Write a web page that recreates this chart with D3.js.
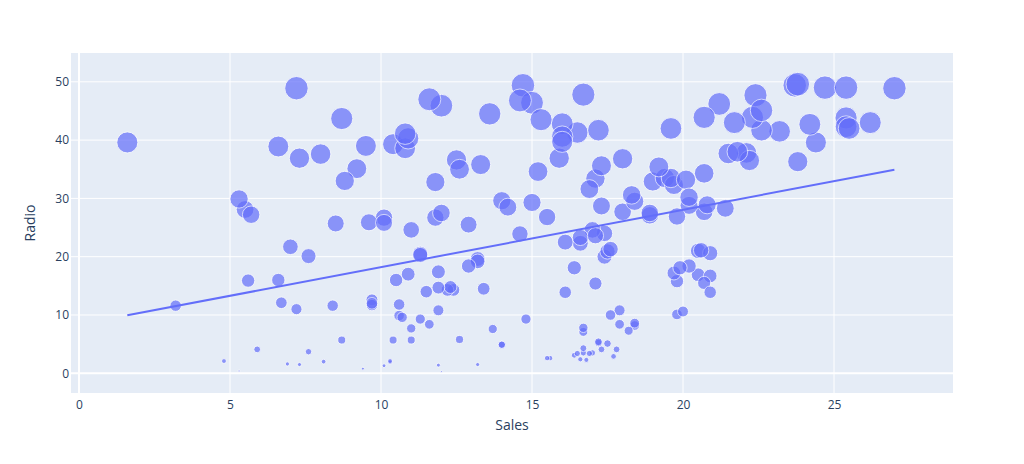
<!DOCTYPE html>
<html>
<head>
<meta charset="utf-8">
<script src="https://cdn.jsdelivr.net/npm/d3@7"></script>
<style>
  html, body { margin: 0; padding: 0; background: #fff; }
  svg { display: block; font-family: "Open Sans", verdana, arial, sans-serif; }
</style>
</head>
<body>
<svg id="chart" width="1024" height="464"></svg>
<script>
// Radio budget of each market (size and y of each bubble)
const radio = [37.8,39.3,45.9,41.3,10.8,48.9,32.8,19.6,2.1,2.6,5.8,24,35.1,7.6,32.9,47.7,36.6,39.6,20.5,23.9,
27.7,5.1,15.9,16.9,12.6,3.5,29.3,16.7,27.1,16,28.3,17.4,1.5,20,1.4,4.1,43.8,49.4,26.7,37.7,
22.3,33.4,27.7,8.4,25.7,22.5,9.9,41.5,15.8,11.7,3.1,9.6,41.7,46.2,28.8,49.4,28.1,19.2,49.6,29.5,
2,42.7,15.5,29.6,42.8,9.3,24.6,14.5,27.5,43.9,30.6,14.3,33,5.7,24.6,43.7,1.6,28.5,29.9,7.7,
26.7,4.1,20.3,44.5,43,18.4,27.5,40.6,25.5,47.8,4.9,1.5,33.5,36.5,14,31.6,3.5,21,42.3,41.7,
4.3,36.3,10.1,17.2,34.3,46.4,11,0.3,0.4,26.9,8.2,38,15.4,20.6,46.8,35,14.3,0.8,36.9,16,
26.8,21.7,2.4,34.6,32.3,11.8,38.9,0,49,12,39.6,2.9,27.2,33.5,38.6,47,39,28.9,25.9,43.9,
17,35.4,33.2,5.7,14.8,1.9,7.3,49,40.3,25.8,13.9,8.4,23.3,39.7,21.1,11.6,43.5,1.3,36.9,18.4,
18.1,35.8,18.1,36.8,14.7,3.4,37.6,5.2,23.6,10.6,11.6,20.9,20.1,7.1,3.4,48.9,30.2,7.8,2.3,10,
2.6,5.4,5.7,43,21.3,45.1,2.1,28.7,13.9,12.1,41.1,10.8,4.1,42,35.6,3.7,4.9,9.3,42,8.6];

// Sales of each market (x of each bubble)
const sales = [22.1,10.4,12,16.5,17.9,7.2,11.8,13.2,4.8,15.6,12.6,17.4,9.2,13.7,19,22.4,12.5,24.4,11.3,14.6,
18,17.5,5.6,20.5,9.7,17,15,20.9,18.9,10.5,21.4,11.9,13.2,17.4,11.9,17.8,25.4,14.7,10.1,21.5,
16.6,17.1,20.7,17.9,8.5,16.1,10.6,23.2,19.8,9.7,16.4,10.7,22.6,21.2,20.2,23.7,5.5,13.2,23.8,18.4,
8.1,24.2,20.7,14,16,11.3,11,13.4,18.9,22.3,18.3,12.4,8.8,11,17,8.7,6.9,14.2,5.3,11,
11.8,17.3,11.3,13.6,21.7,20.2,12,16,12.9,16.7,14,7.3,19.4,22.2,11.5,16.9,16.7,20.5,25.4,17.2,
16.7,23.8,19.8,19.7,20.7,15,7.2,12,5.3,19.8,18.4,21.8,17.1,20.9,14.6,12.6,12.2,9.4,15.9,6.6,
15.5,7,16.6,15.2,19.7,10.6,6.6,11.9,24.7,9.7,1.6,17.7,5.7,19.6,10.8,11.6,9.5,20.8,9.6,20.7,
10.9,19.2,20.1,10.4,12.3,10.3,18.2,25.4,10.9,10.1,16.1,11.6,16.6,16,20.6,3.2,15.3,10.1,7.3,12.9,
16.4,13.3,19.9,18,11.9,16.9,8,17.2,17.1,20,8.4,17.5,7.6,16.7,16.5,27,20.2,16.7,16.8,17.6,
15.5,17.2,8.7,26.2,17.6,22.6,10.3,17.3,20.9,6.7,10.8,11.9,5.9,19.6,17.3,7.6,14,14.8,25.5,18.4];

// OLS trendline endpoints
const trendSales = [1.6, 27];
const trendRadio = [9.95, 34.92];

const xTicks = [0, 5, 10, 15, 20, 25];
const yTicks = [0, 10, 20, 30, 40, 50];

const W = 1024, H = 464;
const L = 71, R = 953, T = 53, B = 393;

const svg = d3.select("#chart");
svg.append("rect").attr("width", W).attr("height", H).attr("fill", "#fff");
svg.append("rect").attr("x", L).attr("y", T).attr("width", R - L).attr("height", B - T).attr("fill", "#E5ECF6");

const x = d3.scaleLinear().domain([-0.265, 28.94]).range([L, R]);
const y = d3.scaleLinear().domain([-3.38, 54.94]).range([B, T]);
const rScale = d3.scaleSqrt().domain([0, d3.max(radio)]).range([0, 11.8]);

// grid
const grid = svg.append("g");
grid.selectAll(".gx").data(xTicks).join("line")
  .attr("x1", d => x(d)).attr("x2", d => x(d)).attr("y1", T).attr("y2", B)
  .attr("stroke", "#fff").attr("stroke-width", d => d === 0 ? 2 : 1);
grid.selectAll(".gy").data(yTicks).join("line")
  .attr("y1", d => y(d)).attr("y2", d => y(d)).attr("x1", L).attr("x2", R)
  .attr("stroke", "#fff").attr("stroke-width", d => d === 0 ? 2 : 1);

// axes (labels only)
const xAxis = d3.axisBottom(x).tickValues(xTicks).tickSize(0).tickPadding(7);
const gx = svg.append("g").attr("transform", `translate(0,${B})`).call(xAxis);
gx.select(".domain").remove();
gx.selectAll("text").attr("fill", "#2a3f5f").style("font-size", "12px")
  .style("font-family", '"Open Sans", verdana, arial, sans-serif');

const yAxis = d3.axisLeft(y).tickValues(yTicks).tickSize(0).tickPadding(2);
const gy = svg.append("g").attr("transform", `translate(${L},0)`).call(yAxis);
gy.select(".domain").remove();
gy.selectAll("text").attr("fill", "#2a3f5f").style("font-size", "12px")
  .style("font-family", '"Open Sans", verdana, arial, sans-serif');

// clip
svg.append("clipPath").attr("id", "clip").append("rect")
  .attr("x", L).attr("y", T).attr("width", R - L).attr("height", B - T);

const pts = sales.map((s, i) => ({ s, r: radio[i] }));
const plot = svg.append("g").attr("clip-path", "url(#clip)");
plot.selectAll("circle").data(pts).join("circle")
  .attr("cx", d => x(d.s)).attr("cy", d => y(d.r))
  .attr("r", d => rScale(d.r))
  .attr("fill", "#636efa").attr("stroke", "#fff").attr("stroke-width", 0.9)
  .attr("opacity", 0.7);

const line = d3.line().x(d => x(d[0])).y(d => y(d[1]));
plot.append("path")
  .datum(trendSales.map((s, i) => [s, trendRadio[i]]))
  .attr("d", line).attr("fill", "none").attr("stroke", "#636efa").attr("stroke-width", 2);

// titles
svg.append("text").attr("x", (L + R) / 2).attr("y", 430).attr("text-anchor", "middle")
  .attr("fill", "#2a3f5f").style("font-size", "14px").text("Sales");
svg.append("text").attr("transform", `translate(35,${(T + B) / 2}) rotate(-90)`)
  .attr("text-anchor", "middle").attr("fill", "#2a3f5f").style("font-size", "14px").text("Radio");
</script>
</body>
</html>
